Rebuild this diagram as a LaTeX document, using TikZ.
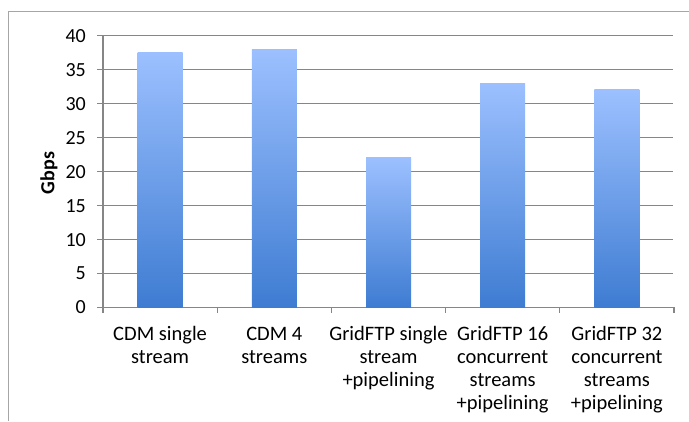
\documentclass[tikz,border=0pt]{standalone}
\usepackage{fontspec}
\setmainfont{Carlito}
\usepackage{xcolor}
\usepackage{tikz}
\usetikzlibrary{positioning}

\definecolor{barlight}{RGB}{156,192,255}
\definecolor{bardark}{RGB}{62,124,210}
\definecolor{gridgray}{RGB}{134,134,134}

\begin{document}
\begin{tikzpicture}[x=1pt,y=1pt]
		\tikzstyle{bar}=[draw=none, top color=barlight, bottom color=bardark, minimum width=45pt, inner sep=0pt, anchor=south]
		\tikzstyle{gridline}=[gridgray, line width=1.1pt]
		\tikzstyle{frame}=[gray!70, line width=0.8pt]
		\tikzstyle{ylab}=[anchor=east, inner sep=0pt, font=\fontsize{20}{23}\selectfont]
		\tikzstyle{catlabel}=[align=center, inner sep=0pt, font=\fontsize{20.5}{23}\selectfont]

		\useasboundingbox (0,0) rectangle (689,421);
		\draw [frame] (8,0) -- (8,410) -- (689,410);

		% grid and value axis, 5 Gbps = 33.9pt
		\foreach \v in {0,5,...,40} {
			\draw [gridline] (97,{113.5+6.79*\v}) -- (673,{113.5+6.79*\v});
			\node [ylab] (y\v) at (86,{113.5+6.79*\v}) {\v};
		}
		\draw [gridline] (103,113.5) -- (103,385);
		\foreach \x in {103,217.2,331.4,445.6,559.8,674} {
			\draw [gridline] (\x,113.5) -- (\x,108);
		}

		\node [rotate=90, font=\fontsize{20}{23}\selectfont\bfseries] (ytitle) at (49,248) {Gbps};

		\node [bar, minimum height=254.6pt] (cdm1) at (160.1,113.5) {};
		\node [bar, minimum height=258pt] (cdm4) at (274.3,113.5) {};
		\node [bar, minimum height=149.4pt] (ftp1) at (388.5,113.5) {};
		\node [bar, minimum height=224.1pt] (ftp16) at (502.7,113.5) {};
		\node [bar, minimum height=217.3pt] (ftp32) at (616.9,113.5) {};

		\node [catlabel, below=19pt of cdm1.south] (lab-cdm1) {CDM single\\stream};
		\node [catlabel, below=19pt of cdm4.south] (lab-cdm4) {CDM 4\\streams};
		\node [catlabel, below=19pt of ftp1.south] (lab-ftp1) {GridFTP single\\stream\\+pipelining};
		\node [catlabel, below=19pt of ftp16.south] (lab-ftp16) {GridFTP 16\\concurrent\\streams\\+pipelining};
		\node [catlabel, below=19pt of ftp32.south] (lab-ftp32) {GridFTP 32\\concurrent\\streams\\+pipelining};

	\end{tikzpicture}
\end{document}
